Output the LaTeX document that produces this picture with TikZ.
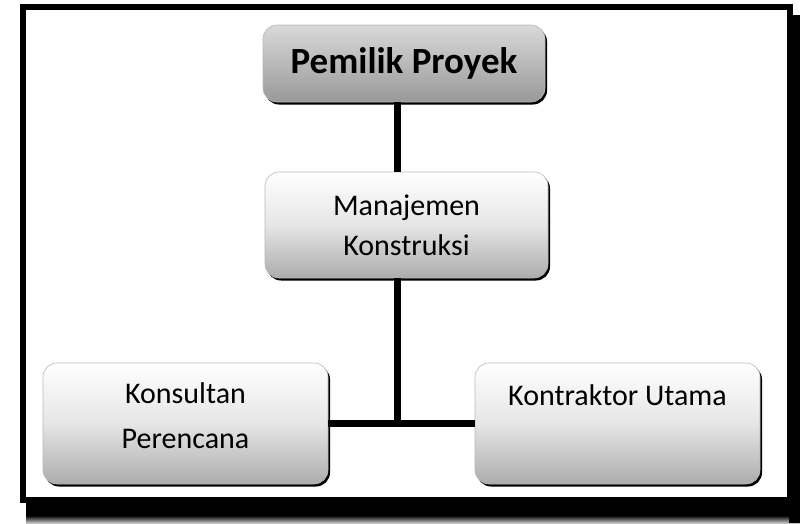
\documentclass[tikz,border=0pt]{standalone}
\usepackage{fontspec}
\setmainfont{Carlito}
\usetikzlibrary{shadows}
\newcommand\liftlines[2]{\raisebox{#1}[0pt][0pt]{\begin{tabular}{@{}c@{}}#2\end{tabular}}}
\begin{document}
\begin{tikzpicture}[x=1pt,y=-1pt,
  orgbox/.style={rectangle, rounded corners=14pt, draw=gray!55, line width=0.6pt,
    top color=white, bottom color=gray!65, middle color=gray!20,
    drop shadow={shadow xshift=2pt, shadow yshift=-2.5pt, fill=black, opacity=1},
    align=center, inner sep=0pt, font=\fontsize{30}{40}\selectfont},
  topbox/.style={orgbox, top color=gray!30, middle color=gray!50, bottom color=gray!80,
    font=\fontsize{37}{40}\selectfont\bfseries},
  link/.style={line width=7pt, black}]
\useasboundingbox (0,0) rectangle (800,523);
% shadow of the frame
\fill[black] (26,500) rectangle (800,516);
\shade[top color=black, bottom color=gray!45] (26,515.5) rectangle (800,523);
\fill[black] (789,15) rectangle (800,523);
% frame
\draw[line width=6pt, fill=white] (23,7) rectangle (789.5,499.5);
% nodes
\node[topbox, minimum width=282pt, minimum height=77pt] (pemilik) at (404,63.5) {Pemilik Proyek};
\node[orgbox, minimum width=283pt, minimum height=106pt] (mk) at (406.5,225) {Manajemen\\Konstruksi};
\node[orgbox, minimum width=285pt, minimum height=121pt, font=\fontsize{30}{45}\selectfont] (kp) at (185.5,423.5) {\liftlines{0pt}{Konsultan\\Perencana}};
\node[orgbox, minimum width=285pt, minimum height=121pt] (ku) at (617.5,423.5) {\raisebox{18pt}[0pt][0pt]{Kontraktor Utama}};
\coordinate (spine) at (397,423.5);
% connectors
\draw[link] (pemilik.south -| spine) -- (mk.north -| spine);
\draw[link] (mk.south -| spine) -- (spine);
\draw[link] (kp.east) -- (ku.west);
\end{tikzpicture}
\end{document}
